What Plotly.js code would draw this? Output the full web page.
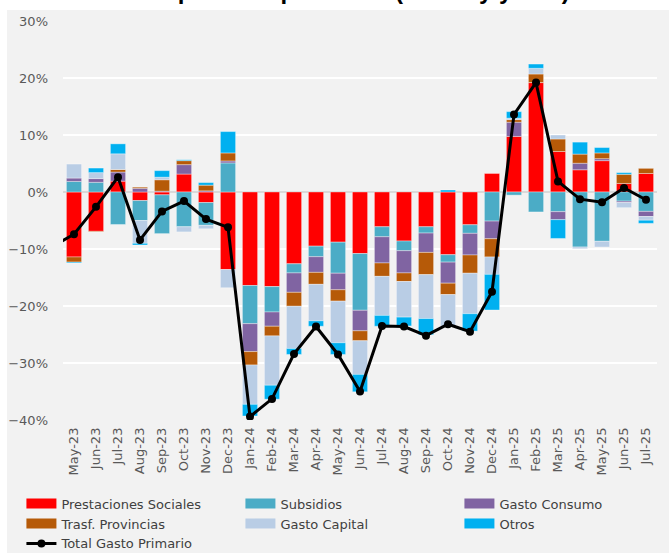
<!DOCTYPE html>
<html>
<head>
<meta charset="utf-8">
<script src="https://cdn.plot.ly/plotly-3.0.1.min.js"></script>
<style>html,body{margin:0;padding:0;background:#fff;}#chart{width:669px;height:553px;}</style>
</head>
<body>
<div id="chart"></div>
<script>
// Categories
const months = ['May-23','Jun-23','Jul-23','Aug-23','Sep-23','Oct-23','Nov-23','Dec-23',
  'Jan-24','Feb-24','Mar-24','Apr-24','May-24','Jun-24','Jul-24','Aug-24','Sep-24','Oct-24','Nov-24','Dec-24',
  'Jan-25','Feb-25','Mar-25','Apr-25','May-25','Jun-25','Jul-25'];
// the total line starts one month earlier (only its stub is visible at the left edge)
const lineMonths = ['Apr-23'].concat(months);

// Contributions (percentage points)
const prestaciones = [-11.4,-6.9,1.9,-1.5,-0.5,3.15,-1.85,-13.6,-16.4,-16.6,-12.6,-9.5,-8.8,-10.8,-6.1,-8.6,-6.1,-11.0,-5.75,3.25,9.75,19.2,7.1,3.9,5.5,1.5,3.25];
const subsidios    = [1.85,1.7,-5.7,-3.5,-6.8,-6.1,-4.0,5.1,-6.7,-4.45,-1.6,-1.85,-5.45,-9.95,-1.75,-1.7,-1.1,-1.3,-1.5,-5.1,-0.55,-3.5,-3.45,-9.65,-8.65,-1.6,-3.4];
const consumo      = [0.6,0.65,1.6,0.65,0.15,1.65,0.2,0.35,-4.9,-2.5,-3.4,-2.75,-2.9,-3.6,-4.6,-3.9,-3.4,-3.7,-3.8,-3.1,2.5,0,-1.4,1.15,0.35,-0.25,-0.9];
const provincias   = [-0.9,-0.1,0.45,0.2,2.0,0.7,1.0,1.4,-2.35,-1.7,-2.45,-2.1,-2.0,-1.75,-2.35,-1.5,-3.9,-2.0,-3.2,-3.2,0.45,1.5,2.2,1.6,1.0,1.6,0.9];
const capital      = [2.45,1.05,2.75,-4.0,0.45,-0.9,-0.6,-3.2,-6.9,-8.65,-7.4,-6.4,-7.3,-5.9,-6.85,-6.25,-7.7,-5.55,-7.1,-3.05,0.25,1.0,0.7,-0.3,-1.0,-0.9,-0.65];
const otros        = [-0.15,0.8,1.75,-0.3,1.15,0.15,0.45,3.75,-2.05,-2.45,-1.05,-0.95,-2.05,-3.05,-1.9,-1.55,-2.85,0.35,-3.05,-6.25,1.15,0.75,-3.3,2.1,0.95,0.3,-0.55];
const totalGasto   = [-9.6,-7.4,-2.6,2.6,-8.4,-3.4,-1.6,-4.75,-6.2,-39.4,-36.3,-28.4,-23.6,-28.5,-35.0,-23.5,-23.6,-25.2,-23.2,-24.5,-17.5,13.6,19.2,1.85,-1.25,-1.8,0.7,-1.35];

const seriesNames = ['Prestaciones Sociales','Subsidios','Gasto Consumo','Trasf. Provincias','Gasto Capital','Otros'];
const seriesVals = [prestaciones, subsidios, consumo, provincias, capital, otros];
const seriesColors = ['#FF0000','#4BACC6','#8064A2','#B65A08','#B9CDE5','#00B0F0'];

const traces = [];
seriesVals.forEach((vals, i) => {
  traces.push({
    type: 'bar', x: months, y: vals, name: seriesNames[i], showlegend: false,
    marker: {color: seriesColors[i], line: {color: 'rgba(255,255,255,0.45)', width: 0.8}},
    hoverinfo: 'x+y+name'
  });
});
// legend swatches
seriesVals.forEach((vals, i) => {
  traces.push({
    type: 'scatter', mode: 'lines', x: [null], y: [null], name: seriesNames[i],
    line: {color: seriesColors[i], width: 10}, hoverinfo: 'skip'
  });
});
traces.push({
  type: 'scatter', mode: 'lines+markers', x: lineMonths, y: totalGasto, name: 'Total Gasto Primario',
  line: {color: '#000000', width: 3}, marker: {color: '#000000', size: 8}
});

const tickFont = {family: 'DejaVu Sans, sans-serif', size: 13, color: '#595959'};
const layout = {
  width: 669, height: 553,
  margin: {l: 63, r: 12, t: 21, b: 133, autoexpand: false},
  paper_bgcolor: '#ffffff',
  plot_bgcolor: '#f2f2f2',
  barmode: 'relative',
  bargap: 0.31,
  showlegend: true,
  xaxis: {
    type: 'category', categoryorder: 'array', categoryarray: lineMonths,
    range: [0.5, 27.5], tickangle: -90, tickfont: tickFont,
    showgrid: false, zeroline: false, showline: false, ticks: '', ticklabelstandoff: 4,
    fixedrange: true
  },
  yaxis: {
    range: [-40, 30], dtick: 10, ticksuffix: '%', tickfont: tickFont,
    gridcolor: '#ffffff', gridwidth: 1.2,
    zeroline: true, zerolinecolor: '#d9d9d9', zerolinewidth: 1.2,
    showline: false, ticks: '', ticklabelstandoff: 14, fixedrange: true
  },
  legend: {
    orientation: 'h', x: -0.07, xanchor: 'left', y: -0.172, yanchor: 'top',
    entrywidth: 174, entrywidthmode: 'pixels',
    font: {family: 'DejaVu Sans, sans-serif', size: 13, color: '#404040'},
    bgcolor: 'rgba(0,0,0,0)', traceorder: 'normal', itemclick: false
  },
  shapes: [{
    type: 'rect', xref: 'paper', yref: 'paper', layer: 'below',
    x0: -0.0943, x1: 1.0202, y0: -0.3333, y1: 1.0276,
    fillcolor: '#f2f2f2', line: {width: 0}
  }],
  annotations: [{
    xref: 'paper', yref: 'paper', x: 0.461, y: 1.0762, xanchor: 'center', yanchor: 'middle',
    text: '<b>Gasto primario por rubro (var. % y/y real)</b>', showarrow: false,
    font: {family: 'Liberation Sans, Arial, sans-serif', size: 24, color: '#000000'}
  }]
};
Plotly.newPlot('chart', traces, layout, {displayModeBar: false, staticPlot: true});
</script>
</body>
</html>
